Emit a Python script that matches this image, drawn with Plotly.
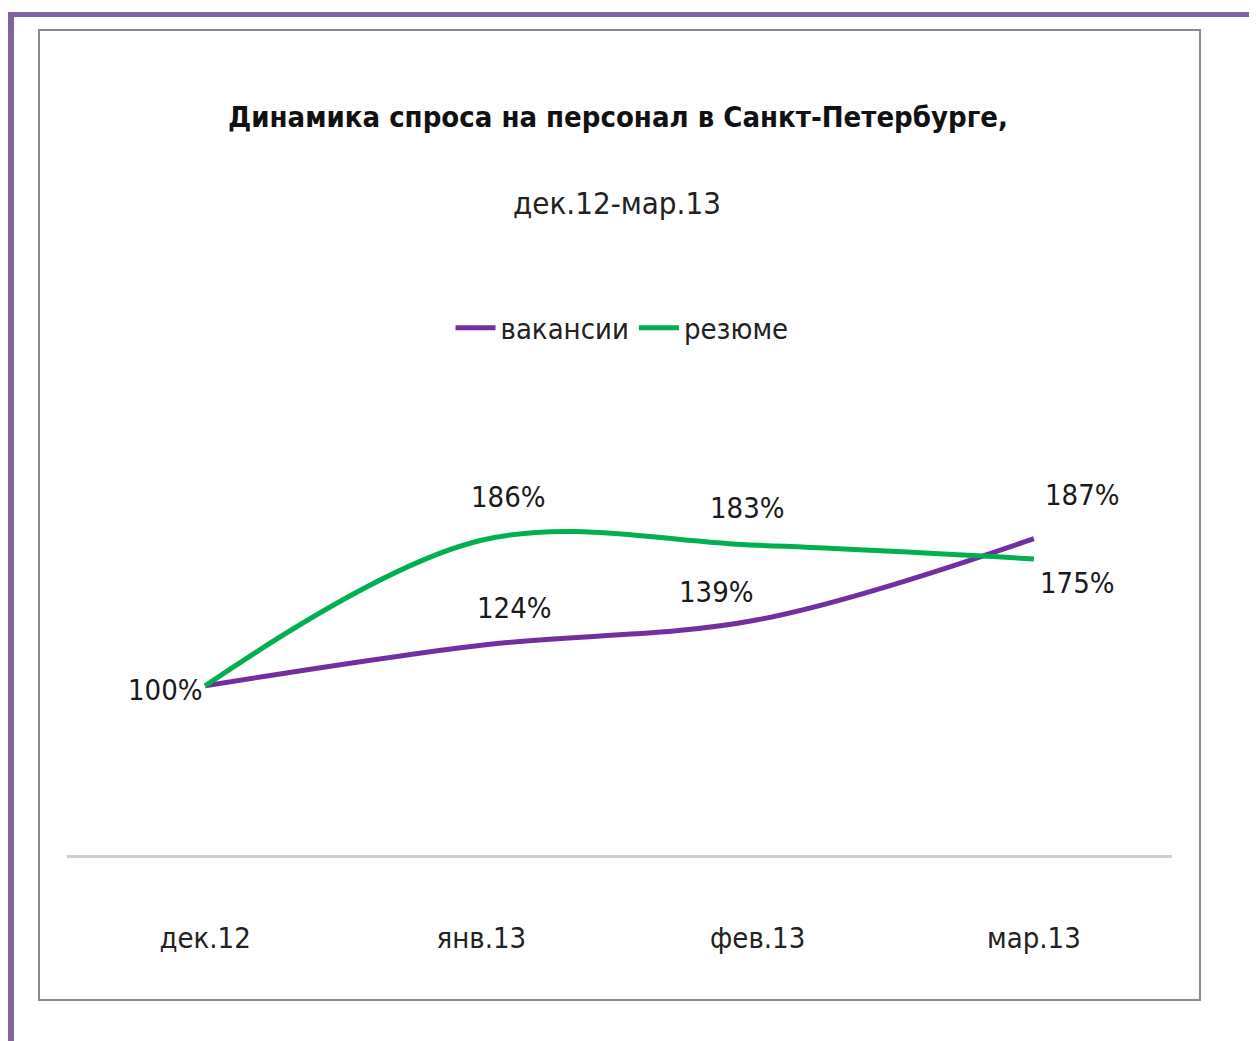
import plotly.graph_objects as go

months = ["дек.12", "янв.13", "фев.13", "мар.13"]
vacancies = [1.00, 1.24, 1.39, 1.87]
resumes = [1.00, 1.86, 1.83, 1.75]

title_main = "Динамика спроса на персонал в Санкт-Петербурге,"
title_sub = "дек.12-мар.13"

OFF = 8  # page body margin
W, H = 1257 - OFF, 1041 - OFF
# plot area, measured in screenshot pixels
L, R, T, B = 67, 1172, 432, 855

FONT = "DejaVu Sans Condensed, Liberation Sans Narrow, Arial Narrow, sans-serif"
PURPLE = "#7030A0"
GREEN = "#00B050"


def px(x):
    return (x - L) / (R - L)


def py(y):
    return (B - y) / (B - T)


fig = go.Figure()
fig.add_trace(go.Scatter(x=months, y=vacancies, mode="lines", name="вакансии",
                         line=dict(color=PURPLE, width=5, shape="spline", smoothing=1.0)))
fig.add_trace(go.Scatter(x=months, y=resumes, mode="lines", name="резюме",
                         line=dict(color=GREEN, width=5, shape="spline", smoothing=1.0)))

# data labels: (series, index, xshift, yshift)
label_pos = [
    (vacancies, 0, -40, -4),
    (resumes, 1, 27, 43),
    (vacancies, 1, 33, 37),
    (resumes, 2, -10, 37),
    (vacancies, 2, -41, 28),
    (vacancies, 3, 49, 44),
    (resumes, 3, 44, -24),
]
annotations = []
for series, i, dx, dy in label_pos:
    annotations.append(dict(x=months[i], y=series[i], text=f"{round(series[i] * 100)}%",
                            showarrow=False, xshift=dx, yshift=dy,
                            xanchor="center", yanchor="middle",
                            font=dict(family=FONT, size=29, color="#1a1a1a")))

annotations.append(dict(x=px(618), y=py(117), xref="paper", yref="paper",
                        text=f"<b>{title_main}</b>", showarrow=False,
                        xanchor="center", yanchor="middle",
                        font=dict(family=FONT, size=29, color="#111")))
annotations.append(dict(x=px(617), y=py(203), xref="paper", yref="paper",
                        text=title_sub, showarrow=False,
                        xanchor="center", yanchor="middle",
                        font=dict(family=FONT, size=31, color="#222")))

shapes = [
    # outer chart box
    dict(type="rect", xref="paper", yref="paper", x0=px(39), x1=px(1200), y0=py(30), y1=py(1000),
         line=dict(color="#8c8c8c", width=2), layer="below"),
    # purple frame
    dict(type="line", xref="paper", yref="paper", x0=px(8), x1=px(1257), y0=py(14.5), y1=py(14.5),
         line=dict(color="#8064A2", width=5)),
    dict(type="line", xref="paper", yref="paper", x0=px(11), x1=px(11), y0=py(12), y1=py(1041),
         line=dict(color="#8064A2", width=6)),
]

fig.update_layout(
    width=W, height=H,
    margin=dict(l=L - OFF, r=W - (R - OFF), t=T - OFF, b=H - (B - OFF)),
    paper_bgcolor="white", plot_bgcolor="white",
    showlegend=True,
    legend=dict(orientation="h", x=px(622), xanchor="center", y=py(328), yanchor="middle",
                font=dict(family=FONT, size=29, color="#222"), itemwidth=40,
                tracegroupgap=0),
    annotations=annotations,
    shapes=shapes,
    xaxis=dict(range=[-0.5, 3.5], showline=True, linecolor="#d0d0d0", linewidth=3,
               showgrid=False, ticks="", zeroline=False,
               tickfont=dict(family=FONT, size=29, color="#222"), ticklabelstandoff=55),
    yaxis=dict(range=[0, 2.5], visible=False, showgrid=False, zeroline=False),
)

fig.write_html("out.html")
